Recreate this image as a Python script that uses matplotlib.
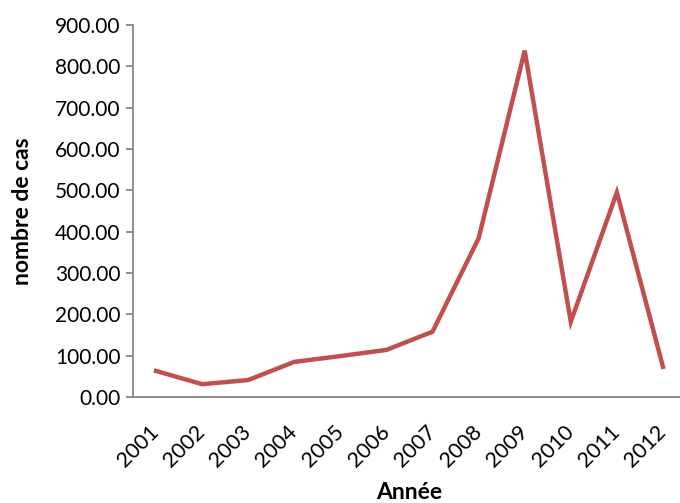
import numpy as np
import matplotlib.pyplot as plt
from matplotlib.ticker import FormatStrFormatter

annees = ['2001', '2002', '2003', '2004', '2005', '2006',
          '2007', '2008', '2009', '2010', '2011', '2012']
cas = [63, 31, 41, 85, 99, 114, 158, 384, 838, 182, 495, 73]

couleur = '#C0504D'
gris = '#868686'

plt.rcParams['font.family'] = ['Lato', 'DejaVu Sans']

fig = plt.figure(figsize=(6.8, 5.03), dpi=100)
ax = fig.add_axes([133/680, 106/503, 553/680, 372/503])

x = np.arange(len(annees))
ax.plot(x, cas, color=couleur, linewidth=3.2, solid_joinstyle='miter')

ax.set_xlim(-0.5, len(annees) - 0.5)
ax.set_ylim(0, 900)
ax.set_yticks(np.arange(0, 901, 100))
ax.yaxis.set_major_formatter(FormatStrFormatter('%.2f'))
ax.set_xticks(x)
ax.set_xticklabels(annees, rotation=45, ha='right', va='center',
                   rotation_mode='anchor')

for s in ['top', 'right']:
    ax.spines[s].set_visible(False)
for s in ['left', 'bottom']:
    ax.spines[s].set_color(gris)
    ax.spines[s].set_linewidth(1.3)

ax.tick_params(axis='y', length=5, width=1.3, color=gris, labelsize=15, pad=4)
ax.tick_params(axis='x', length=0, labelsize=15.5, pad=23)

ax.set_ylabel('nombre de cas', fontsize=16.5, fontweight='bold', labelpad=16)
ax.set_xlabel('Année', fontsize=16.5, fontweight='bold', labelpad=8)

fig.savefig('out.png', dpi=100)
